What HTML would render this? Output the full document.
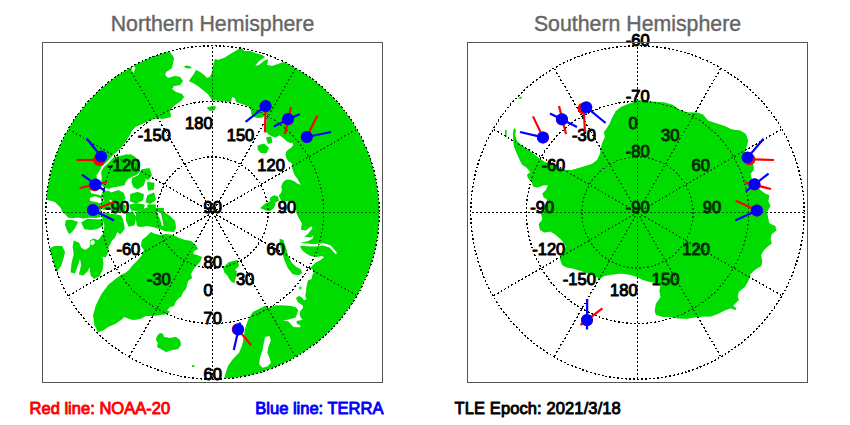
<!DOCTYPE html>
<html><head><meta charset="utf-8"><title>map</title>
<style>
html,body{margin:0;padding:0;background:#fff;}
body{width:850px;height:425px;overflow:hidden;font-family:"Liberation Sans",sans-serif;}
svg{display:block;}
text{font-family:"Liberation Sans",sans-serif;}
</style></head><body>
<svg width="850" height="425" viewBox="0 0 850 425">
<rect width="850" height="425" fill="#fff"/>
<defs>
<clipPath id="cn"><circle cx="212.5" cy="212.5" r="166.7"/></clipPath>
<clipPath id="cs"><circle cx="637.5" cy="212.5" r="166.7"/></clipPath>
</defs>
<g font-size="21.3" fill="#666" stroke="#666" stroke-width="0.4" text-anchor="middle">
<text x="212.5" y="30.5">Northern Hemisphere</text>
<text x="637.5" y="30.5">Southern Hemisphere</text>
</g>
<g id="Lcn" clip-path="url(#cn)"><polygon points="170.0,38.0 170.0,52.0 174.0,58.0 172.0,68.0 166.0,72.0 165.0,75.0 168.0,78.0 175.0,76.0 180.0,77.0 183.0,81.0 180.0,85.0 174.0,86.0 172.0,89.0 176.0,92.0 182.0,94.0 184.0,97.0 181.0,101.0 175.0,105.0 172.0,108.0 170.0,111.0 171.0,117.0 162.0,119.0 159.0,118.0 152.0,119.5 148.0,121.0 142.0,124.0 136.0,126.5 132.4,130.0 129.5,135.6 126.0,141.3 121.8,147.0 117.5,151.2 113.3,154.7 109.8,158.2 107.0,161.8 104.0,164.6 101.5,166.5 99.9,170.0 98.2,172.7 96.3,175.5 97.0,180.0 99.0,184.0 101.0,187.0 98.0,190.0 96.0,193.0 100.6,194.0 102.0,197.6 100.0,201.0 101.0,207.0 100.9,212.0 100.5,217.0 95.0,218.0 89.0,217.5 83.2,218.5 78.5,217.4 72.6,218.0 68.0,217.4 65.6,214.4 62.0,211.5 61.0,208.0 58.0,205.0 55.0,202.0 50.0,200.5 45.8,199.5 30.0,199.0 30.0,38.0" fill="#00dc00"/><polygon points="184.0,66.5 187.0,65.5 190.0,66.5 192.0,67.5 189.0,68.5 186.0,68.0" fill="#00dc00"/><polygon points="189.0,81.0 191.0,78.0 194.0,74.0 196.0,70.0 200.0,72.0 204.0,75.0 207.0,78.0 210.0,77.0 212.0,72.0 214.0,62.0 215.0,59.0 218.0,60.0 224.0,58.0 232.0,53.0 239.0,49.0 242.0,48.0 244.0,51.0 250.0,51.0 255.0,53.0 262.0,55.0 265.0,57.0 259.0,61.0 255.0,66.0 259.0,65.0 264.0,61.0 268.0,59.0 267.0,65.0 272.0,66.0 278.0,64.0 284.0,62.0 288.0,63.0 292.0,55.0 300.0,40.0 400.0,40.0 400.0,400.0 220.0,400.0 224.0,380.0 226.0,372.0 228.0,366.0 233.0,359.0 239.0,353.0 242.0,346.0 244.0,337.0 245.0,329.0 247.0,323.0 249.0,318.0 253.0,312.0 259.0,309.0 265.0,306.0 268.0,308.0 270.0,307.5 275.6,305.4 282.7,305.4 291.0,306.0 296.0,307.5 298.2,310.3 296.8,314.5 295.4,317.4 288.4,319.5 282.7,320.5 288.4,321.6 291.0,324.4 293.3,327.0 300.4,327.5 300.4,325.0 296.8,323.7 296.8,321.0 303.0,320.0 301.0,318.0 299.7,314.5 300.4,311.0 303.0,308.0 303.0,305.4 300.4,304.0 298.0,302.0 296.0,298.0 299.0,296.0 301.8,297.6 304.0,300.4 306.7,299.0 305.3,296.0 306.0,292.0 306.7,286.0 308.0,280.6 311.7,279.0 312.4,275.0 314.6,271.0 312.2,269.2 309.7,268.4 312.2,266.0 315.5,262.7 320.4,260.2 324.5,257.0 321.2,256.0 316.3,257.0 310.5,256.0 306.4,253.6 303.0,251.0 300.7,247.8 299.7,244.5 302.0,242.4 308.0,241.2 312.6,238.8 313.8,235.3 310.3,237.6 304.4,236.5 308.0,234.0 312.6,228.2 311.5,225.9 305.6,230.6 300.9,229.4 302.0,223.5 298.5,217.6 296.5,213.0 296.0,207.8 295.3,202.0 283.0,201.0 280.5,199.5 278.8,195.4 280.5,193.8 282.0,190.5 281.3,186.4 283.0,182.2 286.2,179.8 290.4,179.8 294.5,181.4 297.8,183.9 301.0,184.7 297.0,178.0 294.5,174.8 292.8,170.0 291.5,166.5 292.6,165.3 291.5,163.0 288.5,161.2 286.8,158.8 285.6,155.3 286.2,151.8 288.5,149.4 291.5,147.6 293.2,145.3 292.6,142.4 290.3,143.0 286.8,141.2 285.0,139.4 282.6,137.6 279.7,135.3 278.0,135.9 275.6,137.6 272.6,136.5 269.0,134.7 266.0,131.8 266.5,122.0 266.5,113.5 265.5,115.5 262.0,117.5 258.0,118.0 254.0,117.0 251.5,114.5 251.0,111.0 250.0,107.0 242.0,104.0 236.0,102.0 235.0,98.0 232.0,97.0 231.0,102.0 220.0,101.0 212.0,100.0 208.0,94.0 203.0,90.0 198.0,86.0 193.0,83.0" fill="#00dc00"/><polygon points="299.5,286.5 301.5,287.0 301.0,289.5 299.5,289.0" fill="#00dc00"/><polygon points="279.7,238.8 283.2,240.0 285.6,247.0 288.0,255.3 291.5,262.4 296.2,267.0 300.9,269.4 302.0,273.0 298.5,275.3 292.6,274.0 288.0,268.2 284.4,260.0 281.4,250.6 279.7,243.5" fill="#00dc00"/><polygon points="157.0,336.0 160.0,333.0 163.0,334.0 164.0,337.0 170.0,338.0 176.0,337.0 180.0,340.0 181.0,345.0 178.0,349.0 172.0,350.0 166.0,352.0 161.0,349.0 157.0,347.0 158.0,343.0 156.0,340.0" fill="#00dc00"/><polygon points="192.0,365.5 194.5,365.0 194.0,367.0 192.0,367.0" fill="#00dc00"/><polygon points="141.0,246.0 142.0,240.0 147.0,236.0 151.0,232.0 155.0,234.0 160.0,235.0 166.0,234.0 173.0,235.0 179.0,238.0 185.0,240.0 191.0,241.0 196.0,245.0 198.0,249.0 194.0,251.0 193.0,254.0 197.0,255.0 202.0,257.0 200.0,262.0 196.0,266.0 193.0,270.0 191.0,274.0 192.0,278.0 188.0,281.0 187.0,285.0 186.0,289.0 183.0,292.0 181.0,297.0 180.0,297.0 176.0,301.0 174.0,306.0 170.0,307.0 167.0,310.0 170.0,312.0 167.0,314.0 160.0,315.0 153.0,316.0 146.0,316.0 140.0,319.0 133.0,320.0 127.0,318.0 124.0,317.0 121.0,320.0 115.0,324.0 108.0,327.0 103.8,330.0 98.0,332.3 94.4,324.7 93.2,315.3 95.6,305.9 101.5,294.0 108.5,284.7 115.6,279.0 121.0,275.0 126.0,272.5 129.0,270.0 133.0,265.0 138.0,260.0 142.0,255.0 144.0,250.0" fill="#00dc00"/><polygon points="136.0,212.0 147.0,207.5 164.0,208.0 164.0,212.0 170.0,216.0 175.0,221.0 176.0,228.0 174.0,232.0 165.0,231.0 160.0,229.0 153.0,227.0 147.0,226.0 141.0,227.0 137.0,226.0 136.0,220.0" fill="#00dc00"/><polygon points="127.0,212.0 133.0,213.0 134.0,220.0 133.0,226.0 129.0,225.0 127.0,222.0" fill="#00dc00"/><polygon points="73.8,240.5 79.0,242.7 81.2,248.0 85.4,250.0 89.7,247.0 90.0,243.0 89.7,240.5 94.0,238.4 98.0,240.5 100.3,237.4 103.4,233.0 104.5,225.7 102.4,218.3 101.0,214.0 105.6,212.6 110.3,213.8 116.2,214.4 120.9,215.6 122.6,218.5 124.0,224.0 124.6,229.0 120.4,234.2 117.2,232.0 115.0,237.4 112.0,240.5 108.7,247.0 107.7,253.3 105.6,257.5 102.4,256.4 103.4,263.9 102.4,270.2 99.2,276.6 94.0,278.7 90.7,275.5 89.7,267.0 87.6,271.3 83.3,275.5 79.0,274.4 81.2,265.0 80.0,258.6 78.0,265.0 74.8,273.4 70.6,272.3 71.7,262.8 73.8,254.3 72.7,247.0" fill="#00dc00"/><polygon points="81.2,222.5 87.6,218.8 97.0,219.4 103.0,219.4 103.0,226.0 97.0,229.0 90.7,230.0 84.4,229.0" fill="#00dc00"/><polygon points="66.0,220.0 72.0,220.0 78.0,222.0 75.0,228.0 72.0,232.0 69.0,234.0 67.0,230.0 65.0,225.0" fill="#00dc00"/><polygon points="40.0,250.0 50.0,248.0 55.0,246.0 62.0,246.0 65.0,252.0 63.0,260.0 61.0,266.0 58.0,270.0 56.0,274.0 40.0,280.0" fill="#00dc00"/><polygon points="208.0,108.0 212.0,107.0 215.0,107.0 214.0,109.5 210.0,110.0" fill="#00dc00" stroke="#00dc00" stroke-width="1.6" stroke-linejoin="round"/><polygon points="258.5,146.0 264.0,144.5 268.0,148.0 266.0,152.5 261.0,152.0 258.5,149.0" fill="#00dc00" stroke="#00dc00" stroke-width="1.6" stroke-linejoin="round"/><polygon points="267.0,138.0 270.5,137.5 271.5,142.0 268.5,143.0" fill="#00dc00" stroke="#00dc00" stroke-width="1.6" stroke-linejoin="round"/><polygon points="270.6,198.7 273.9,196.2 277.2,197.0 278.0,200.4 274.7,202.0 271.4,201.2" fill="#00dc00" stroke="#00dc00" stroke-width="1.6" stroke-linejoin="round"/><polygon points="261.5,207.8 265.7,204.5 270.6,202.0 274.7,203.7 273.0,207.8 269.8,210.2 265.7,209.4" fill="#00dc00" stroke="#00dc00" stroke-width="1.6" stroke-linejoin="round"/><polygon points="224.0,268.0 229.0,263.0 237.0,261.0 238.0,266.0 234.0,269.0 236.0,272.0 234.0,282.0 231.0,280.0 228.0,275.0 225.0,272.0" fill="#00dc00" stroke="#00dc00" stroke-width="1.6" stroke-linejoin="round"/><polygon points="142.0,170.0 149.0,169.0 151.0,175.0 148.0,179.0 144.0,177.0 139.0,176.0" fill="#00dc00" stroke="#00dc00" stroke-width="1.6" stroke-linejoin="round"/><polygon points="133.0,178.5 141.6,175.0 145.0,179.0 143.0,185.0 137.4,188.4 133.8,186.3 132.4,182.0" fill="#00dc00" stroke="#00dc00" stroke-width="1.6" stroke-linejoin="round"/><polygon points="148.0,182.8 153.6,183.5 153.0,189.0 148.7,189.8" fill="#00dc00" stroke="#00dc00" stroke-width="1.6" stroke-linejoin="round"/><polygon points="131.0,194.8 137.4,192.7 143.0,194.8 142.3,199.7 136.0,202.5 131.0,201.0" fill="#00dc00" stroke="#00dc00" stroke-width="1.6" stroke-linejoin="round"/><polygon points="148.0,196.0 153.6,193.4 155.0,199.7 150.0,203.0 146.5,201.8" fill="#00dc00" stroke="#00dc00" stroke-width="1.6" stroke-linejoin="round"/><polygon points="130.3,205.4 136.0,204.0 143.7,205.4 143.0,209.0 137.4,210.3 131.7,209.6" fill="#00dc00" stroke="#00dc00" stroke-width="1.6" stroke-linejoin="round"/><polygon points="148.0,205.4 155.0,205.4 155.0,209.6 149.4,210.3" fill="#00dc00" stroke="#00dc00" stroke-width="1.6" stroke-linejoin="round"/><polygon points="115.4,157.5 120.4,156.8 125.3,155.4 131.0,155.4 134.5,157.5 138.0,163.0 139.4,171.0 136.6,173.8 132.4,175.9 128.0,178.0 125.3,180.8 124.0,184.4 118.2,185.8 112.6,186.5 108.4,188.0 104.0,186.5 102.0,183.7 102.7,178.0 102.0,172.4 104.0,168.0 108.4,164.0 112.6,159.7" fill="#00dc00" stroke="#00dc00" stroke-width="1.6" stroke-linejoin="round"/><polygon points="111.0,193.4 118.3,191.0 123.0,193.4 124.7,198.3 121.8,201.0 114.8,201.8 111.0,199.0 109.8,196.0" fill="#00dc00" stroke="#00dc00" stroke-width="1.6" stroke-linejoin="round"/><polygon points="95.0,194.8 100.6,194.0 102.0,197.6 99.2,201.0 95.0,201.8" fill="#00dc00" stroke="#00dc00" stroke-width="1.6" stroke-linejoin="round"/><polygon points="100.6,203.0 107.7,199.7 110.5,203.0 109.0,208.0 103.5,209.0" fill="#00dc00" stroke="#00dc00" stroke-width="1.6" stroke-linejoin="round"/><polygon points="112.0,204.0 120.0,203.0 125.0,206.0 124.0,211.0 116.0,212.0 111.0,209.0" fill="#00dc00" stroke="#00dc00" stroke-width="1.6" stroke-linejoin="round"/><polygon points="103.0,192.5 108.0,191.5 111.5,194.0 110.0,199.0 104.0,199.5" fill="#00dc00" stroke="#00dc00" stroke-width="1.6" stroke-linejoin="round"/><polygon points="126.8,213.8 132.4,212.4 135.3,217.4 133.8,224.4 129.0,225.8 126.8,220.0" fill="#00dc00" stroke="#00dc00" stroke-width="1.6" stroke-linejoin="round"/><polygon points="89.6,197.9 95.0,196.3 100.3,197.9 102.6,200.2 100.3,203.2 95.0,201.7 90.3,201.0" fill="#fff"/><polygon points="90.3,190.2 96.5,190.2 101.8,192.5 101.0,195.6 95.0,194.0 91.0,193.3" fill="#fff"/><polygon points="132.5,66.0 135.5,67.5 133.5,73.0 131.5,70.0" fill="#fff"/><polygon points="265.0,337.0 269.6,335.9 270.8,340.6 268.5,346.5 267.3,352.4 269.6,358.2 270.8,363.0 267.3,366.5 262.6,367.8 259.0,364.0 260.2,357.0 262.6,350.0 263.8,343.0" fill="#fff"/><polygon points="299.0,243.0 308.0,243.6 314.0,244.2 323.0,243.0 330.5,245.3 336.8,252.5 336.0,254.5 329.5,247.6 323.0,245.5 314.0,246.6 308.0,246.2 303.0,246.0 299.0,246.0" fill="#fff"/><polygon points="157.0,212.0 160.5,212.0 162.5,220.0 163.5,226.0 162.0,226.0 160.0,219.0" fill="#fff"/><polygon points="90.5,241.0 93.5,240.0 95.0,242.5 93.0,245.0 90.5,244.5" fill="#fff"/></g>
<g id="Lcs" clip-path="url(#cs)"><polygon points="514.0,128.0 516.0,130.0 515.0,135.0 517.0,141.0 521.0,145.0 527.0,149.0 534.0,154.0 540.0,159.0 545.0,162.0 552.0,165.0 560.0,168.0 566.0,170.0 572.0,170.0 582.0,167.0 592.0,164.0 597.0,160.0 600.0,154.0 601.0,147.0 603.0,141.0 605.0,137.0 604.0,132.0 607.0,128.0 610.0,123.0 612.0,118.0 616.0,111.0 621.0,107.0 628.0,104.0 634.0,102.0 637.3,100.0 645.5,101.3 655.0,101.8 664.4,102.5 672.6,104.8 679.6,110.0 687.9,112.4 697.3,112.4 703.2,114.7 707.9,120.6 715.0,123.0 724.6,125.9 731.7,129.4 740.0,130.6 745.8,134.0 748.0,140.0 747.0,146.0 744.6,150.6 748.0,157.0 752.9,163.5 754.0,169.4 750.5,174.0 751.7,178.8 756.0,185.0 761.0,190.6 765.8,194.0 769.4,195.3 768.2,201.2 770.5,205.9 767.0,211.8 768.2,218.8 769.4,223.5 775.2,225.9 776.4,230.6 771.7,234.0 770.5,238.8 771.7,243.5 767.0,247.0 763.5,250.6 761.0,255.3 762.3,261.2 761.2,265.9 755.3,269.4 750.6,274.0 748.2,281.2 744.7,287.0 738.8,291.8 737.6,296.5 738.8,300.0 735.3,303.5 733.0,305.9 736.5,308.2 735.3,309.9 730.6,308.2 724.7,310.6 717.6,314.0 710.6,316.5 702.4,316.5 694.0,317.6 687.0,318.8 680.0,318.5 677.0,318.2 670.0,317.0 663.0,317.0 655.9,314.7 654.7,311.0 655.9,304.0 660.6,297.0 659.4,291.0 660.6,285.3 655.9,283.0 648.8,281.8 641.8,279.4 637.0,277.0 630.0,274.7 620.6,273.5 611.0,274.7 604.0,275.9 599.4,279.4 595.3,275.9 588.0,273.5 581.0,271.0 574.0,268.8 567.0,267.6 562.4,265.3 560.0,259.4 561.0,253.5 566.0,246.5 561.0,239.4 555.3,234.5 550.6,231.5 544.7,232.4 540.0,230.0 538.8,224.0 542.4,219.4 541.0,213.5 543.0,208.0 547.0,203.0 547.0,199.4 543.5,197.0 542.4,193.5 546.0,190.0 548.0,185.3 543.5,185.3 537.6,187.6 533.0,186.5 531.8,181.8 528.0,178.0 527.0,174.7 530.5,172.2 526.5,167.4 522.0,164.5 520.0,160.4 518.0,156.3 515.8,151.0 514.0,146.4 513.3,141.0 513.0,134.0" fill="#00dc00"/><polygon points="505.0,130.0 506.5,130.0 506.5,137.0 505.3,137.0" fill="#00dc00"/><polygon points="519.0,97.5 521.5,96.5 521.5,98.5 519.5,99.0" fill="#00dc00"/></g>
<g fill="none" stroke="#000" stroke-width="1.35" stroke-dasharray="2 2" shape-rendering="crispEdges"><circle cx="212.5" cy="212.5" r="55.6"/><circle cx="212.5" cy="212.5" r="111.1"/><circle cx="212.5" cy="212.5" r="166.7"/><line x1="212.5" y1="212.5" x2="212.5" y2="45.8"/><line x1="212.5" y1="212.5" x2="295.8" y2="68.1"/><line x1="212.5" y1="212.5" x2="356.9" y2="129.1"/><line x1="212.5" y1="212.5" x2="379.2" y2="212.5"/><line x1="212.5" y1="212.5" x2="356.9" y2="295.8"/><line x1="212.5" y1="212.5" x2="295.8" y2="356.9"/><line x1="212.5" y1="212.5" x2="212.5" y2="379.2"/><line x1="212.5" y1="212.5" x2="129.1" y2="356.9"/><line x1="212.5" y1="212.5" x2="68.1" y2="295.9"/><line x1="212.5" y1="212.5" x2="45.8" y2="212.5"/><line x1="212.5" y1="212.5" x2="68.1" y2="129.1"/><line x1="212.5" y1="212.5" x2="129.1" y2="68.1"/></g>
<g fill="none" stroke="#000" stroke-width="1.35" stroke-dasharray="2 2" shape-rendering="crispEdges"><circle cx="637.5" cy="212.5" r="55.6"/><circle cx="637.5" cy="212.5" r="111.1"/><circle cx="637.5" cy="212.5" r="166.7"/><line x1="637.5" y1="212.5" x2="637.5" y2="45.8"/><line x1="637.5" y1="212.5" x2="720.9" y2="68.1"/><line x1="637.5" y1="212.5" x2="781.9" y2="129.1"/><line x1="637.5" y1="212.5" x2="804.2" y2="212.5"/><line x1="637.5" y1="212.5" x2="781.9" y2="295.8"/><line x1="637.5" y1="212.5" x2="720.9" y2="356.9"/><line x1="637.5" y1="212.5" x2="637.5" y2="379.2"/><line x1="637.5" y1="212.5" x2="554.1" y2="356.9"/><line x1="637.5" y1="212.5" x2="493.1" y2="295.9"/><line x1="637.5" y1="212.5" x2="470.8" y2="212.5"/><line x1="637.5" y1="212.5" x2="493.1" y2="129.1"/><line x1="637.5" y1="212.5" x2="554.1" y2="68.1"/></g>
<use href="#Lcn" opacity="0.3"/>
<use href="#Lcs" opacity="0.3"/>
<g font-size="16.5" fill="#000" stroke="#000" stroke-width="1" stroke-linejoin="round">
<text x="170.8" y="140.5" text-anchor="end">-150</text><text x="140.3" y="171.1" text-anchor="end">-120</text><text x="129.1" y="212.8" text-anchor="end">-90</text><text x="140.3" y="254.6" text-anchor="end">-60</text><text x="170.8" y="285.1" text-anchor="end">-30</text><text x="212.6" y="296.3" text-anchor="end">0</text><text x="254.3" y="285.1" text-anchor="end">30</text><text x="284.9" y="254.6" text-anchor="end">60</text><text x="296.1" y="212.8" text-anchor="end">90</text><text x="284.9" y="171.1" text-anchor="end">120</text><text x="254.3" y="140.5" text-anchor="end">150</text><text x="212.6" y="129.3" text-anchor="end">180</text><text x="212.8" y="212.8" text-anchor="middle">90</text><text x="212.8" y="268.4" text-anchor="middle">80</text><text x="212.8" y="323.9" text-anchor="middle">70</text><text x="212.8" y="379.5" text-anchor="middle">60</text>
<text x="595.9" y="285.1" text-anchor="end">-150</text><text x="565.3" y="254.5" text-anchor="end">-120</text><text x="554.1" y="212.8" text-anchor="end">-90</text><text x="565.3" y="171.1" text-anchor="end">-60</text><text x="595.9" y="140.5" text-anchor="end">-30</text><text x="637.6" y="129.3" text-anchor="end">0</text><text x="679.4" y="140.5" text-anchor="end">30</text><text x="709.9" y="171.1" text-anchor="end">60</text><text x="721.1" y="212.8" text-anchor="end">90</text><text x="709.9" y="254.5" text-anchor="end">120</text><text x="679.4" y="285.1" text-anchor="end">150</text><text x="637.6" y="296.3" text-anchor="end">180</text><text x="637.8" y="212.8" text-anchor="middle">-90</text><text x="637.8" y="157.2" text-anchor="middle">-80</text><text x="637.8" y="101.7" text-anchor="middle">-70</text><text x="637.8" y="46.1" text-anchor="middle">-60</text>
</g>
<use href="#Lcn" opacity="0.18"/>
<use href="#Lcs" opacity="0.18"/>
<rect x="42.5" y="42.5" width="340" height="340" fill="none" stroke="#555" stroke-width="1"/>
<rect x="467.5" y="42.5" width="340" height="340" fill="none" stroke="#555" stroke-width="1"/>
<line x1="99.2" y1="160.0" x2="76.5" y2="160.0" stroke="#ff0000" stroke-width="2.2"/><circle cx="99.2" cy="160.0" r="6.0" fill="#ff0000"/><line x1="101.2" y1="156.5" x2="86.5" y2="138.2" stroke="#0000ff" stroke-width="2.2"/><circle cx="101.2" cy="156.5" r="6.0" fill="#0000ff"/><line x1="107.0" y1="182.0" x2="79.6" y2="188.0" stroke="#ff0000" stroke-width="2.2"/><circle cx="94.5" cy="185.2" r="6.0" fill="#ff0000"/><line x1="105.0" y1="191.0" x2="82.0" y2="174.6" stroke="#0000ff" stroke-width="2.2"/><circle cx="95.6" cy="184.6" r="6.0" fill="#0000ff"/><line x1="93.0" y1="210.0" x2="114.0" y2="202.0" stroke="#ff0000" stroke-width="2.2"/><circle cx="93.0" cy="210.0" r="6.0" fill="#ff0000"/><line x1="93.0" y1="210.0" x2="114.0" y2="220.4" stroke="#0000ff" stroke-width="2.2"/><circle cx="93.0" cy="210.0" r="6.0" fill="#0000ff"/><line x1="265.6" y1="106.5" x2="265.0" y2="132.4" stroke="#ff0000" stroke-width="2.2"/><circle cx="265.6" cy="106.5" r="6.0" fill="#ff0000"/><line x1="265.6" y1="106.0" x2="245.6" y2="121.8" stroke="#0000ff" stroke-width="2.2"/><circle cx="265.6" cy="106.0" r="6.0" fill="#0000ff"/><line x1="291.0" y1="107.0" x2="285.0" y2="134.0" stroke="#ff0000" stroke-width="2.2"/><circle cx="288.0" cy="119.5" r="6.0" fill="#ff0000"/><line x1="299.7" y1="114.0" x2="273.8" y2="126.5" stroke="#0000ff" stroke-width="2.2"/><circle cx="288.0" cy="119.0" r="6.0" fill="#0000ff"/><line x1="306.8" y1="137.0" x2="317.4" y2="115.4" stroke="#ff0000" stroke-width="2.2"/><circle cx="306.8" cy="137.0" r="6.0" fill="#ff0000"/><line x1="306.8" y1="137.0" x2="331.0" y2="132.0" stroke="#0000ff" stroke-width="2.2"/><circle cx="306.8" cy="137.0" r="6.0" fill="#0000ff"/><line x1="237.8" y1="329.2" x2="251.2" y2="345.2" stroke="#ff0000" stroke-width="2.2"/><circle cx="237.8" cy="329.2" r="6.0" fill="#ff0000"/><line x1="240.1" y1="322.4" x2="233.8" y2="350.0" stroke="#0000ff" stroke-width="2.2"/><circle cx="238.2" cy="329.6" r="6.0" fill="#0000ff"/>
<line x1="543.0" y1="137.4" x2="533.0" y2="116.4" stroke="#ff0000" stroke-width="2.2"/><circle cx="543.0" cy="137.4" r="6.0" fill="#ff0000"/><line x1="543.0" y1="137.4" x2="520.0" y2="132.0" stroke="#0000ff" stroke-width="2.2"/><circle cx="543.0" cy="137.4" r="6.0" fill="#0000ff"/><line x1="566.0" y1="134.0" x2="559.0" y2="106.0" stroke="#ff0000" stroke-width="2.2"/><circle cx="562.0" cy="119.5" r="6.0" fill="#ff0000"/><line x1="577.0" y1="127.0" x2="550.0" y2="113.5" stroke="#0000ff" stroke-width="2.2"/><circle cx="562.0" cy="119.3" r="6.0" fill="#0000ff"/><line x1="583.6" y1="108.6" x2="585.0" y2="132.0" stroke="#ff0000" stroke-width="2.2"/><circle cx="583.6" cy="108.6" r="6.0" fill="#ff0000"/><line x1="586.3" y1="107.2" x2="605.6" y2="123.0" stroke="#0000ff" stroke-width="2.2"/><circle cx="586.3" cy="107.2" r="6.0" fill="#0000ff"/><line x1="749.4" y1="159.3" x2="774.0" y2="160.0" stroke="#ff0000" stroke-width="2.2"/><circle cx="749.4" cy="159.3" r="6.0" fill="#ff0000"/><line x1="747.5" y1="157.6" x2="763.5" y2="138.8" stroke="#0000ff" stroke-width="2.2"/><circle cx="747.5" cy="157.6" r="6.0" fill="#0000ff"/><line x1="771.0" y1="189.0" x2="744.6" y2="182.4" stroke="#ff0000" stroke-width="2.2"/><circle cx="754.5" cy="184.6" r="6.0" fill="#ff0000"/><line x1="768.6" y1="173.6" x2="745.8" y2="191.3" stroke="#0000ff" stroke-width="2.2"/><circle cx="754.5" cy="184.2" r="6.0" fill="#0000ff"/><line x1="756.9" y1="210.6" x2="735.7" y2="200.7" stroke="#ff0000" stroke-width="2.2"/><circle cx="756.9" cy="210.6" r="6.0" fill="#ff0000"/><line x1="756.9" y1="210.6" x2="735.2" y2="220.5" stroke="#0000ff" stroke-width="2.2"/><circle cx="756.9" cy="210.6" r="6.0" fill="#0000ff"/><line x1="602.4" y1="308.4" x2="580.5" y2="325.0" stroke="#ff0000" stroke-width="2.2"/><circle cx="587.0" cy="320.3" r="6.0" fill="#ff0000"/><line x1="587.0" y1="329.5" x2="587.2" y2="299.0" stroke="#0000ff" stroke-width="2.2"/><circle cx="587.0" cy="320.0" r="6.0" fill="#0000ff"/>
<g font-size="16.5" stroke-width="0.9" stroke-linejoin="round">
<text x="29.5" y="413.8" fill="#ff0000" stroke="#ff0000" textLength="140.6" lengthAdjust="spacing">Red line: NOAA-20</text>
<text x="255.3" y="413.8" fill="#0000ff" stroke="#0000ff">Blue line: TERRA</text>
<text x="454.5" y="413.8" fill="#000" stroke="#000" textLength="166.3" lengthAdjust="spacing">TLE Epoch: 2021/3/18</text>
</g>
</svg>
</body></html>
